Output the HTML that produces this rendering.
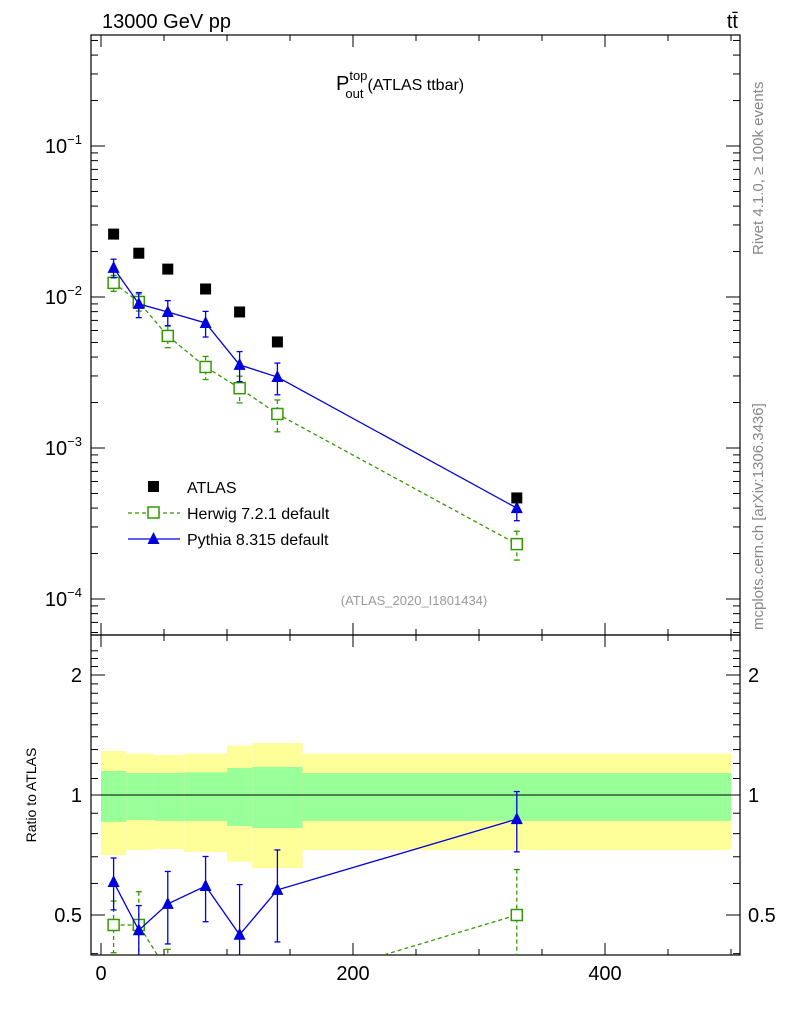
<!DOCTYPE html>
<html><head><meta charset="utf-8"><style>
body{margin:0;background:#fff;}
svg text{font-family:"Liberation Sans",sans-serif;}
</style></head><body>
<svg id="c" width="786" height="1024" xmlns="http://www.w3.org/2000/svg">
<text x="102" y="28" font-size="20">13000 GeV pp</text>
<text x="738" y="28" font-size="20" text-anchor="end">tt̄</text>
<text x="336" y="90" font-size="20">P<tspan font-size="13" dy="-10">top</tspan><tspan font-size="13" dx="-22" dy="18">out</tspan><tspan font-size="16" dx="4" dy="-8">(ATLAS ttbar)</tspan></text>
<text x="414" y="605" font-size="13" fill="#999" text-anchor="middle">(ATLAS_2020_I1801434)</text>
<text transform="translate(763,255) rotate(-90)" font-size="15" fill="#888">Rivet 4.1.0, ≥ 100k events</text>
<text transform="translate(763,630) rotate(-90)" font-size="15" fill="#888">mcplots.cern.ch [arXiv:1306.3436]</text>
<text transform="translate(36,795) rotate(-90)" font-size="14" text-anchor="middle">Ratio to ATLAS</text>
<g id="g"></g>
</svg>
<script>
const xCenters=[10,30,53,83,110,140,330];
const binEdges=[0,20,42,66,100,120,160,500];
const atlasVals=[0.0261,0.0195,0.0153,0.0113,0.00796,0.00504,0.000467];
const herwigVals=[0.0124,0.00927,0.00552,0.00344,0.00249,0.00168,0.000231];
const herwigErr=[0.0015,0.0012,0.0009,0.0006,0.0005,0.0004,0.00005];
const pythiaVals=[0.0156,0.0090,0.00796,0.00673,0.00355,0.00295,0.0004];
const pythiaErr=[0.0022,0.0017,0.0015,0.0013,0.0008,0.0007,0.00007];
const herwigRatio=[0.472,0.472,0.36,0.30,0.31,0.33,0.50];
const herwigRatioErr=[0.07,0.1,0.05,0.05,0.05,0.05,0.15];
const pythiaRatio=[0.605,0.458,0.533,0.591,0.446,0.578,0.87];
const pythiaRatioErr=[0.09,0.07,0.11,0.11,0.15,0.15,0.15];
const yellowHi=[1.29,1.27,1.26,1.27,1.33,1.35,1.27];
const yellowLo=[0.707,0.728,0.732,0.72,0.68,0.656,0.728];
const greenHi=[1.149,1.135,1.135,1.14,1.169,1.176,1.135];
const greenLo=[0.856,0.866,0.861,0.861,0.836,0.826,0.861];
const xTicks=[0,200,400];
const yTickExp=[-1,-2,-3,-4];
const rTicks=[0.5,1,2];

const L=91,R=740,T=35,M=635,B=955;
const X=v=>101+v*1.26;
const Y=v=>146-(Math.log10(v)+1)*151;
const RY=v=>795-Math.log2(v)*120;
const g=document.getElementById('g');
const NS='http://www.w3.org/2000/svg';
function el(t,a,p){const e=document.createElementNS(NS,t);for(const k in a)e.setAttribute(k,a[k]);(p||g).appendChild(e);return e;}

for(let i=0;i<xCenters.length;i++){
 const x0=X(binEdges[i]),x1=X(binEdges[i+1]);
 const y=el('rect',{x:x0,y:RY(yellowHi[i]),width:x1-x0,height:RY(yellowLo[i])-RY(yellowHi[i]),fill:'#ffff99'});
 
 
 const gr=el('rect',{x:x0,y:RY(greenHi[i]),width:x1-x0,height:RY(greenLo[i])-RY(greenHi[i]),fill:'#99ff99'});
 
 
}
el('line',{x1:L,x2:R,y1:RY(1),y2:RY(1),stroke:'#000'});

el('rect',{x:L,y:T,width:R-L,height:M-T,fill:'none',stroke:'#000','stroke-width':1.2});
el('rect',{x:L,y:M,width:R-L,height:B-M,fill:'none',stroke:'#000','stroke-width':1.2});

for(let v=0;v<=500;v+=50){const big=v%200===0;const x=X(v);
 [[M,big?-12:-6],[B,big?-12:-6],[T,big?12:6]].forEach(([y,d])=>el('line',{x1:x,x2:x,y1:y,y2:y+d,stroke:'#000'}));
 el('line',{x1:x,x2:x,y1:M,y2:M+(big?12:6),stroke:'#000'});}
xTicks.forEach(v=>{const t=el('text',{x:X(v),y:980,'font-size':20,'text-anchor':'middle'});t.textContent=v;
 });

for(let e=-5;e<=0;e++)for(let m=1;m<10;m++){const y=Y(m*Math.pow(10,e));if(y<T||y>M)continue;const w=m===1?14:7;
 el('line',{x1:L,x2:L+w,y1:y,y2:y,stroke:'#000'});el('line',{x1:R,x2:R-w,y1:y,y2:y,stroke:'#000'});}
yTickExp.forEach(e=>{const t=el('text',{x:82,y:Y(Math.pow(10,e))+7,'font-size':20,'text-anchor':'end'});
 t.innerHTML='10<tspan font-size="13" dy="-9">'+(e<0?'−':'')+Math.abs(e)+'</tspan>';
 });

for(let v=0.4;v<=2.4;v+=0.1){const y=RY(v);if(y<M||y>B)continue;const big=[0.5,1,2].some(r=>Math.abs(r-v)<1e-6);const w=big?14:7;
 el('line',{x1:L,x2:L+w,y1:y,y2:y,stroke:'#000'});el('line',{x1:R,x2:R-w,y1:y,y2:y,stroke:'#000'});}
rTicks.forEach(v=>{[[82,'end'],[748,'start']].forEach(([x,a])=>{const t=el('text',{x:x,y:RY(v)+7,'font-size':20,'text-anchor':a});t.textContent=v;
 });});

const defs=el('defs',{});
const c1=el('clipPath',{id:'cm'},defs);el('rect',{x:L,y:T,width:R-L,height:M-T},c1);
const c2=el('clipPath',{id:'cr'},defs);el('rect',{x:L,y:M,width:R-L,height:B-M},c2);
const gm=el('g',{'clip-path':'url(#cm)'});const gr=el('g',{'clip-path':'url(#cr)'});

function series(par,vals,err,yf,color,dash,marker,name){
 const pts=xCenters.map((x,i)=>X(x)+','+yf(vals[i])).join(' ');
 const pl=el('polyline',{points:pts,fill:'none',stroke:color,'stroke-width':1.3,'stroke-dasharray':dash},par);
 
 xCenters.forEach((x,i)=>{const cx=X(x),cy=yf(vals[i]);
  const lo=yf(Math.max(vals[i]-err[i],1e-9)),hi=yf(vals[i]+err[i]);
  el('line',{x1:cx,x2:cx,y1:hi,y2:lo,stroke:color,'stroke-width':1.3,'stroke-dasharray':dash},par);
  el('line',{x1:cx-3,x2:cx+3,y1:hi,y2:hi,stroke:color,'stroke-width':1.3},par);
  el('line',{x1:cx-3,x2:cx+3,y1:lo,y2:lo,stroke:color,'stroke-width':1.3},par);
  let m;
  if(marker==='sq')m=el('rect',{x:cx-5.5,y:cy-5.5,width:11,height:11,fill:'#fff',stroke:color,'stroke-width':1.5},par);
  else m=el('polygon',{points:`${cx},${cy-7} ${cx-6},${cy+5} ${cx+6},${cy+5}`,fill:color},par);
  });
}
series(gm,herwigVals,herwigErr,Y,'#339900','4,3','sq','herwig');
series(gm,pythiaVals,pythiaErr,Y,'#0000dd','','tri','pythia');
xCenters.forEach((x,i)=>{const r=el('rect',{x:X(x)-5.5,y:Y(atlasVals[i])-5.5,width:11,height:11,fill:'#000'},gm);
 });
series(gr,herwigRatio,herwigRatioErr,RY,'#339900','4,3','sq','herwig-ratio');
series(gr,pythiaRatio,pythiaRatioErr,RY,'#0000dd','','tri','pythia-ratio');

const lg=el('g',{});
el('rect',{x:148,y:481,width:11,height:11,fill:'#000'},lg);
el('line',{x1:128,x2:180,y1:513,y2:513,stroke:'#339900','stroke-width':1.3,'stroke-dasharray':'4,3'},lg);
el('rect',{x:148,y:507,width:11,height:11,fill:'#fff',stroke:'#339900','stroke-width':1.5},lg);
el('line',{x1:128,x2:180,y1:539,y2:539,stroke:'#0000dd','stroke-width':1.3},lg);
el('polygon',{points:'153.5,532 147.5,544 159.5,544',fill:'#0000dd'},lg);
[['ATLAS',493],['Herwig 7.2.1 default',519],['Pythia 8.315 default',545]].forEach(([s,y])=>{const t=el('text',{x:187,y:y,'font-size':16},lg);t.textContent=s;
 });
</script>
</body></html>
